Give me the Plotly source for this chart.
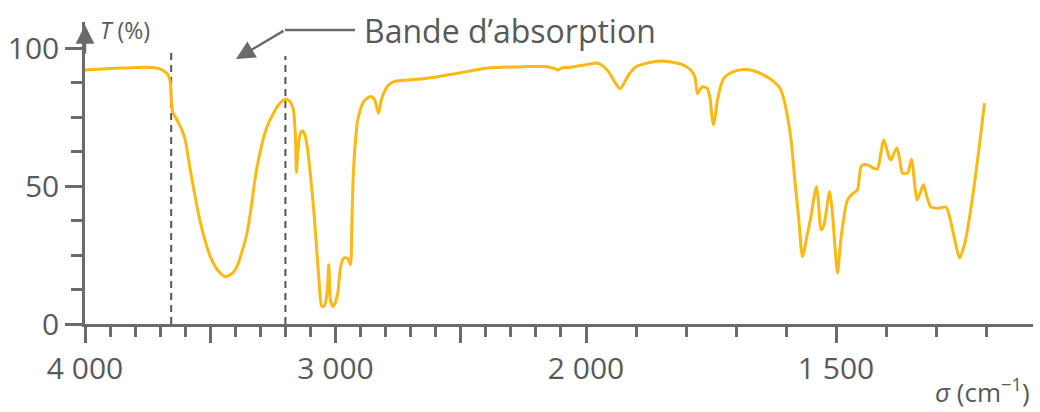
import plotly.graph_objects as go

# Wavenumber (cm-1) and transmittance (%)
sigma_high = [4000, 3930, 3860, 3760, 3720, 3692, 3670, 3660, 3656, 3650, 3630, 3613, 3600,
              3580, 3540, 3500, 3470, 3440, 3410, 3393, 3353, 3313, 3273, 3227, 3200, 3185,
              3169, 3160, 3156, 3150, 3142, 3133, 3122, 3113, 3087, 3067, 3055, 3045, 3036,
              3030, 3027, 3023, 3020, 3010, 3002, 2991, 2980, 2967, 2953, 2945, 2940, 2935,
              2930, 2924, 2911, 2887, 2860, 2845, 2835, 2828, 2820, 2813, 2790, 2767, 2700,
              2633, 2513, 2393, 2247, 2153, 2125, 2113, 2095, 2073, 2000]
T_high = [92.1, 92.5, 92.8, 93.1, 92.9, 92.1, 90.5, 88.0, 82.0, 77.0, 73.5, 70.4, 66.8,
          56.0, 37.0, 24.5, 19.5, 17.2, 18.5, 20.9, 33.0, 57.0, 71.6, 79.5, 81.5, 81.0,
          78.0, 68.0, 55.0, 63.0, 68.5, 70.1, 68.5, 64.3, 41.4, 17.2, 6.5, 6.5, 9.5,
          16.0, 21.5, 14.0, 8.5, 6.4, 7.5, 11.2, 20.5, 23.9, 23.9, 22.5, 21.5, 35.0,
          52.0, 62.0, 74.0, 80.7, 82.5, 81.5, 78.5, 76.4, 80.0, 82.5, 86.5, 87.9, 88.6,
          89.1, 90.9, 92.8, 93.3, 93.3, 92.6, 92.1, 92.9, 93.0, 94.0]

sigma_low = [2000, 1979, 1970, 1955, 1945, 1932, 1922, 1912, 1900, 1880, 1855, 1830, 1805,
             1790, 1782, 1777, 1772, 1767, 1758, 1752, 1748, 1745, 1741, 1737, 1725, 1705,
             1685, 1665, 1645, 1625, 1612, 1605, 1597, 1590, 1583, 1575, 1567, 1558, 1550,
             1544, 1539, 1535, 1530, 1526, 1522, 1517, 1513, 1508, 1502, 1497, 1490, 1477,
             1465, 1457, 1450, 1443, 1437, 1425, 1417, 1412, 1405, 1400, 1393, 1390, 1384,
             1378, 1372, 1367, 1357, 1349, 1344, 1338, 1332, 1325, 1318, 1310, 1295, 1280,
             1273, 1263, 1253, 1245, 1237, 1220, 1207, 1203]
T_low = [94.0, 94.6, 94.0, 91.5, 88.5, 85.3, 88.0, 91.0, 93.3, 94.5, 95.3, 95.0, 93.9,
         92.0, 89.5, 83.5, 85.0, 86.0, 85.5, 82.0, 75.0, 72.2, 76.0, 81.3, 89.0, 91.5,
         92.3, 91.8, 90.3, 88.0, 85.5, 82.0, 75.2, 67.0, 53.5, 39.0, 24.5, 32.0, 39.0,
         46.0, 49.9, 44.0, 34.2, 35.0, 37.8, 44.0, 48.0, 42.0, 28.0, 18.5, 31.0, 45.0,
         47.5, 48.7, 57.1, 57.8, 57.7, 56.5, 56.2, 60.0, 66.8, 64.5, 60.0, 59.5, 62.0,
         63.8, 59.0, 54.7, 54.7, 59.8, 53.0, 45.0, 47.5, 50.5, 46.0, 42.4, 42.0, 42.4,
         39.0, 31.0, 23.9, 27.5, 34.2, 55.0, 74.0, 80.1]

band_limits = [3656, 3200]

x_ticks_high = [4000, 3500, 3000, 2500, 2000]
x_ticktext_high = ["4 000", "", "3 000", "", "2 000"]
x_ticks_low = [1500]
x_ticktext_low = ["1 500"]
y_ticks = [0, 50, 100]

CURVE = "#FDB813"
AX = "#6b6b6b"
TXT = "#595959"
FONT = "Open Sans"

fig = go.Figure()
fig.add_trace(go.Scatter(x=sigma_high, y=T_high, mode="lines", xaxis="x", yaxis="y",
                         line=dict(color=CURVE, width=3, shape="spline", smoothing=0.7),
                         showlegend=False, hoverinfo="skip"))
fig.add_trace(go.Scatter(x=sigma_low, y=T_low, mode="lines", xaxis="x2", yaxis="y",
                         line=dict(color=CURVE, width=3, shape="spline", smoothing=0.7),
                         showlegend=False, hoverinfo="skip"))

split = (586 - 85) / 948

common_x = dict(showline=True, linecolor=AX, linewidth=2.5, ticks="outside", ticklen=16,
                tickwidth=2.5, tickcolor=AX, showgrid=False, zeroline=False,
                tickfont=dict(family=FONT, size=30, color=TXT), anchor="y",
                automargin=False,
                minor=dict(dtick=100, ticks="outside", ticklen=10, tickwidth=2.5,
                           tickcolor=AX, showgrid=False))

fig.update_layout(
    width=1040, height=412,
    margin=dict(l=85, r=7, t=22, b=88, autoexpand=False),
    plot_bgcolor="white", paper_bgcolor="white",
    xaxis=dict(domain=[0, split], range=[4000, 2000], tickvals=x_ticks_high,
               ticktext=x_ticktext_high, **common_x),
    xaxis2=dict(domain=[split, 1], range=[2000, 1106], tickvals=x_ticks_low,
                ticktext=x_ticktext_low, **common_x),
    yaxis=dict(range=[0, 109.5], tickvals=y_ticks, showline=True, linecolor=AX,
               linewidth=2.5, ticks="outside", ticklen=17, tickwidth=2.5, tickcolor=AX,
               showgrid=False, zeroline=False, automargin=False,
               tickfont=dict(family=FONT, size=30, color=TXT),
               minor=dict(dtick=12.5, ticks="outside", ticklen=11, tickwidth=2.5,
                          tickcolor=AX, showgrid=False)),
)

# dashed lines bounding the absorption band
for s, top in zip(band_limits, [98.8, 97.2]):
    fig.add_shape(type="line", xref="x", yref="y", x0=s, x1=s, y0=0, y1=top,
                  line=dict(color="#555555", width=2, dash="7px,5px"), layer="below")

# y-axis arrow head
fig.add_annotation(xref="paper", yref="paper", x=0, y=0.99, ax=0, ay=30, text="",
                   showarrow=True, arrowhead=2, arrowsize=1.5, arrowwidth=2.5,
                   arrowcolor=AX)

# axis titles
fig.add_annotation(xref="paper", yref="paper", x=(98 - 85) / 948, y=(324 - 30) / 302,
                   xanchor="left", yanchor="middle", showarrow=False,
                   text="<i>T</i> (%)", font=dict(family=FONT, size=23, color=TXT))
fig.add_annotation(xref="paper", yref="paper", x=0.999, y=(324 - 391) / 302,
                   xanchor="right", yanchor="middle", showarrow=False,
                   text="<i>σ</i> (cm<sup>−1</sup>)", font=dict(family=FONT, size=26, color=TXT))

# "Bande d'absorption" label with leader line and arrow
fig.add_annotation(xref="paper", yref="paper", x=(362 - 85) / 948, y=(324 - 30) / 302,
                   xanchor="left", yanchor="middle", showarrow=False,
                   text="Bande d’absorption", font=dict(family=FONT, size=32, color=TXT))
fig.add_shape(type="line", xref="paper", yref="paper",
              x0=(285 - 85) / 948, x1=(355 - 85) / 948,
              y0=(324 - 30) / 302, y1=(324 - 30) / 302,
              line=dict(color=AX, width=2.5))
fig.add_annotation(xref="paper", yref="paper", x=(236 - 85) / 948, y=(324 - 59) / 302,
                   ax=49, ay=-29, text="", showarrow=True, arrowhead=2, arrowsize=1.5,
                   arrowwidth=2.5, arrowcolor=AX)

fig.write_html("out.html", config={"displayModeBar": False},
               post_script="document.body.style.margin='0';document.body.style.overflow='hidden';")
